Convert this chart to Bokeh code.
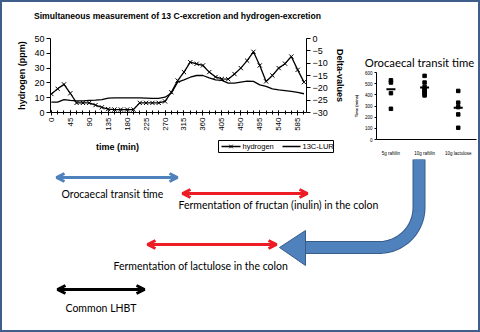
import numpy as np
from bokeh.plotting import figure
from bokeh.layouts import column, row
from bokeh.models import (Range1d, LinearAxis, FixedTicker, Label, Arrow, OpenHead)
from bokeh.embed import file_html
from bokeh.resources import INLINE

# ---- breath test time course, sampled every 15 min ----
time_min = list(range(0, 601, 15))
hydrogen_ppm = [12.5, 16, 19, 13, 6.5, 6.5, 6.5, 5, 3.5, 2.3, 2, 2, 2, 2,
                6.5, 6.5, 6.5, 6.5, 7.5,
                13.7, 21.6, 27.3, 34, 32.9, 31.8, 27.3, 24, 22.7, 22.5, 26, 30, 35, 41,
                31.8, 21, 25, 30, 33, 37.8, 28.8, 20.5]
c13_lur_delta = [-25.8, -25.8, -24.8, -25.1, -25.3, -25.3, -25.1, -25.0, -24.8, -24.2,
                 -24.1, -24.1, -24.1, -24.1, -24.1, -24.2, -24.3, -24.3, -23.8,
                 -22.2, -17.7, -16.8, -15.7, -15.0, -15.0, -16.0, -16.8, -17.0, -18.1,
                 -18.1, -17.7, -17.3, -17.4,
                 -18.8, -19.4, -20.4, -20.8, -21.1, -21.4, -21.8, -22.4]
time_ticks = list(range(0, 586, 45))
hydrogen_ticks = [0, 10, 20, 30, 40, 50]
delta_ticks = [-30, -25, -20, -15, -10, -5, 0]
series_names = ["hydrogen", "13C-LUR"]

# ---- orocaecal transit time per test (min) ----
transit_groups = ["5g raftilin", "10g raftilin", "10g lactulose"]
transit_5g_raftilin = [530, 510, 415, 275]
transit_10g_raftilin = [570, 510, 470, 455, 440, 425, 410, 395]
transit_10g_lactulose = [435, 330, 290, 225, 105]
transit_means = [450, 465, 285]
transit_ticks = [0, 100, 200, 300, 400, 500, 600]

ARIAL = "Liberation Sans"
OFFICE = "Lato"
BLUE = "#4f81bd"
BLUE_EDGE = "#385d8a"
RED = "#ee1c25"
FRAME_BLUE = "#3f5e8c"


def style_axis(ax, size):
    ax.axis_line_color = "black"
    ax.major_tick_line_color = "black"
    ax.minor_tick_line_color = None
    ax.major_label_text_font = ARIAL
    ax.major_label_text_font_size = size
    ax.major_label_text_color = "black"
    ax.axis_label_text_font = ARIAL
    ax.axis_label_text_font_style = "bold"
    ax.axis_label_text_color = "black"


def strip(x0, x1, y0, y1):
    """Axis-less panel whose data units are page pixels (y grows downwards)."""
    s = figure(width=x1 - x0, height=y1 - y0, x_range=Range1d(x0, x1), y_range=Range1d(y1, y0),
               output_backend="svg", toolbar_location=None, title=None,
               x_axis_location=None, y_axis_location=None, min_border=0)
    s.outline_line_color = None
    s.grid.visible = False
    return s


def text(fig, x, y, txt, size, font=OFFICE, bold=False, align="left"):
    fig.add_layout(Label(x=x, y=y, text=txt, text_font=font, text_font_size=size,
                         text_font_style="bold" if bold else "normal", text_color="black",
                         text_align=align, text_baseline="middle"))


# ---------- title strip ----------
head = strip(2, 478, 2, 28)
text(head, 177, 15, "Simultaneous measurement of 13 C-excretion and hydrogen-excretion",
     "8.6px", font=ARIAL, bold=True, align="center")

# ---------- hydrogen / 13C line chart ----------
p = figure(width=348, height=107, x_range=Range1d(-2, 606), y_range=Range1d(0, 50),
           output_backend="svg", toolbar_location=None, title=None,
           min_border_left=48, min_border_right=44, min_border_top=10, min_border_bottom=23)
p.outline_line_color = None
p.grid.visible = False

xa = p.xaxis[0]
style_axis(xa, "8px")
xa.ticker = FixedTicker(ticks=time_ticks, minor_ticks=time_min)
xa.major_label_orientation = np.pi / 2
xa.major_tick_in = 2
xa.major_tick_out = 3
xa.minor_tick_line_color = "black"
xa.minor_tick_in = 2
xa.minor_tick_out = 2
xa.major_label_standoff = 2

ya = p.yaxis[0]
style_axis(ya, "9px")
ya.ticker = FixedTicker(ticks=hydrogen_ticks)
ya.major_tick_in = 0
ya.major_tick_out = 4
ya.major_label_standoff = 2
ya.axis_label = "hydrogen (ppm)"
ya.axis_label_text_font_size = "9px"
ya.axis_label_standoff = 4

p.extra_y_ranges = {"delta": Range1d(-30, 0)}
ra = LinearAxis(y_range_name="delta", ticker=FixedTicker(ticks=delta_ticks),
                major_label_overrides={t: ("\u2212%d" % -t if t < 0 else "0") for t in delta_ticks})
style_axis(ra, "9px")
ra.major_tick_in = 0
ra.major_tick_out = 4
ra.major_label_standoff = 2
ra.axis_label = "Delta-values"
ra.axis_label_text_font_size = "9px"
ra.axis_label_standoff = 4
p.add_layout(ra, "right")

p.line(time_min, hydrogen_ppm, line_color="black", line_width=1.3)
p.scatter(time_min, hydrogen_ppm, marker="x", size=6, line_color="black", line_width=1)
p.line(time_min, c13_lur_delta, y_range_name="delta", line_color="black", line_width=1.3)

# ---------- axis title and key under the line chart ----------
foot = strip(2, 350, 135, 158)
text(foot, 117, 146, "time (min)", "9px", font=ARIAL, bold=True, align="center")
key_y = 146
foot.quad(left=218, right=333, top=140, bottom=152, fill_color=None,
          line_color="black", line_width=1)
foot.line([221, 240], [key_y, key_y], line_color="black", line_width=1.3)
foot.scatter([230.5], [key_y], marker="x", size=5, line_color="black", line_width=1)
text(foot, 242, key_y, series_names[0], "7.5px", font=ARIAL)
foot.line([282, 300], [key_y, key_y], line_color="black", line_width=1.3)
text(foot, 302, key_y, series_names[1], "7.5px", font=ARIAL)

# ---------- transit time dot plot ----------
side = strip(350, 478, 28, 69)
text(side, 419, 62, "Orocaecal transit time", "11.3px", align="center")

q = figure(width=128, height=89, x_range=Range1d(0.571, 3.543), y_range=Range1d(0, 600),
           output_backend="svg", toolbar_location=None, title=None,
           min_border_left=22, min_border_right=2, min_border_top=3, min_border_bottom=17)
q.outline_line_color = None
q.grid.visible = False

qx = q.xaxis[0]
style_axis(qx, "4.5px")
qx.ticker = FixedTicker(ticks=[1, 2, 3])
qx.major_label_overrides = {i + 1: g for i, g in enumerate(transit_groups)}
qx.major_tick_line_color = None
qx.major_label_standoff = 5

qy = q.yaxis[0]
style_axis(qy, "4.5px")
qy.ticker = FixedTicker(ticks=transit_ticks)
qy.major_tick_in = 0
qy.major_tick_out = 2
qy.major_label_standoff = 2
qy.axis_label = "Time (mins)"
qy.axis_label_text_font_size = "4px"
qy.axis_label_standoff = 3

for gi, vals in enumerate([transit_5g_raftilin, transit_10g_raftilin, transit_10g_lactulose]):
    q.scatter([gi + 1] * len(vals), vals, marker="square", size=3.5,
              fill_color="black", line_color="black")
q.scatter([1, 2, 3], transit_means, marker="dash", size=9, line_color="black", line_width=2)

# ---------- annotation panel ----------
b = strip(2, 478, 158, 330)


def span_arrow(x0, x1, y, color):
    b.add_layout(Arrow(start=OpenHead(size=8, line_color=color, line_width=3),
                       end=OpenHead(size=8, line_color=color, line_width=3),
                       x_start=x0, y_start=y, x_end=x1, y_end=y,
                       line_color=color, line_width=3))


span_arrow(56, 177, 177, BLUE)
text(b, 61, 193, "Orocaecal transit time", "10.5px")
span_arrow(182, 307, 193, RED)
text(b, 178, 204, "Fermentation of fructan (inulin) in the colon", "10.5px")
span_arrow(147, 276, 244, RED)
text(b, 113, 265, "Fermentation of lactulose in the colon", "10.5px")
span_arrow(57, 144, 289, "black")
text(b, 65, 307, "Common LHBT", "10.5px")

# curved block arrow from the dot plot down-left to the lactulose span
stem_x, bend_y, radius, head_base, tip_x = 418.5, 247, 40, 305, 279
ang = np.linspace(0, np.pi / 2, 24)
path_x = [stem_x] + list(stem_x - radius + radius * np.cos(ang)) + [head_base]
path_y = [159] + list(bend_y - radius + radius * np.sin(ang)) + [bend_y]
b.line(path_x, path_y, line_width=13, line_color=BLUE_EDGE)
b.line(path_x, path_y, line_width=11, line_color=BLUE)
b.patch([tip_x, head_base, head_base], [bend_y, bend_y - 17, bend_y + 18],
        fill_color=BLUE, line_color=BLUE_EDGE, line_width=1)

# wrapping single panels keeps neighbouring plot frames from being aligned
left_col = column(p, row(foot), background="white")
right_col = column(row(side), q, background="white")
inner = column(head, row(left_col, right_col, background="white"), b,
               margin=(2, 2, 2, 2), background="white")
root = column(inner, background=FRAME_BLUE)

with open("out.html", "w") as f:
    f.write(file_html(root, INLINE))
